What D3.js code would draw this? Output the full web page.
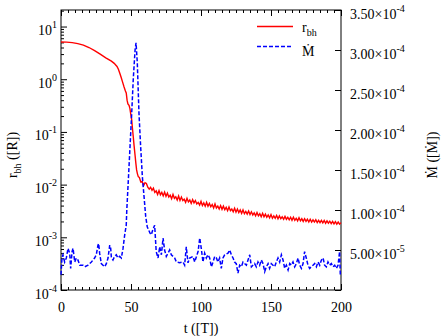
<!DOCTYPE html>
<head>
    <meta charset="UTF-8">
    <title>r_bh and Mdot</title>
    <style>
        body { margin: 0; background: #fff; }
        text { font-family: "Liberation Serif", "DejaVu Serif", serif; }
    </style>
</head>
<body>
    <script src="https://d3js.org/d3.v7.min.js"></script>
    <script>
        // -- data --
        // r_bh, smooth part (t, value)
        var rbhT = [0, 4, 8, 12, 16, 20, 24, 28, 32, 36, 38, 40, 41, 42, 43, 44, 45, 46, 46.6, 47.2, 47.8, 48.6, 49.2, 49.8, 50.5, 51, 51.6, 52.2, 52.9, 53.5, 54, 54.6, 55.2]
        var rbh = [5.1, 5.05, 4.95, 4.75, 4.45, 4.0, 3.5, 3.0, 2.55, 2.2, 2.0, 1.75, 1.55, 1.3, 1.08, 0.88, 0.72, 0.6, 0.55, 0.40, 0.34, 0.32, 0.28, 0.22, 0.17, 0.12, 0.082, 0.055, 0.036, 0.025, 0.019, 0.016, 0.0142]
        // r_bh, noisy tail, one value per t = 56..200, in units of 1e-3
        var rbhTailE3 = [13.6, 11.2, 11.5, 9.6, 10.9, 10.5, 8.9, 8.2, 8.9, 7.8,
            8.6, 7.1, 7.6, 6.5, 7.7, 6.4, 7.1, 6.1, 7.2, 6.0,
            6.9, 5.8, 6.3, 5.4, 6.5, 5.5, 5.9, 5.1, 6.1, 5.0,
            5.8, 5.0, 5.3, 4.6, 5.5, 4.7, 5.1, 4.4, 5.2, 4.5,
            5.0, 4.3, 4.6, 4.1, 4.8, 4.0, 4.5, 3.9, 4.6, 3.9,
            4.4, 3.8, 4.2, 3.6, 4.3, 3.6, 3.9, 3.45, 4.0, 3.4,
            3.9, 3.35, 3.7, 3.2, 3.75, 3.2, 3.45, 3.05, 3.55, 3.0,
            3.45, 2.95, 3.3, 2.85, 3.3, 2.8, 3.1, 2.75, 3.15, 2.7,
            3.05, 2.65, 2.9, 2.55, 2.95, 2.55, 2.8, 2.45, 2.85, 2.45,
            2.75, 2.4, 2.65, 2.35, 2.7, 2.3, 2.55, 2.3, 2.6, 2.25,
            2.55, 2.25, 2.45, 2.2, 2.5, 2.2, 2.4, 2.15, 2.4, 2.1,
            2.4, 2.1, 2.3, 2.05, 2.35, 2.05, 2.25, 2.0, 2.25, 2.0,
            2.2, 1.95, 2.2, 1.95, 2.15, 1.95, 2.15, 1.9, 2.1, 1.9,
            2.1, 1.88, 2.08, 1.85, 2.05, 1.85, 2.02, 1.82, 2.0, 1.8,
            1.98, 1.78, 1.95, 1.78, 1.9]
        var rbhTailT = d3.range(56, 201)

        // Mdot (t, value in units of 1e-5)
        var mdotT = [0, 0.7, 1.4, 2.6, 3.8, 5.0, 6.2, 6.9, 7.9, 8.6, 9.8, 10.9, 12.1, 13.4, 15.7, 16.9, 19.3, 21.7, 22.9, 24.0,
            25.2, 26.4, 26.9, 27.6, 28.8, 30.0, 31.2, 32.4, 33.6, 34.8, 35.5, 36.0, 37.1, 38.3, 39.5, 40.7, 41.9, 43.1, 44.3, 45.5,
            46.6, 47.0, 48.1, 49.3, 50.5, 51.6, 52.9, 53.6, 54.5, 55.7, 56.9, 58.1, 59.3, 60.5, 61.6, 63.6, 64.5, 65.7, 66.9, 68.0,
            69.3, 70.5, 71.7, 72.9, 74.0, 75.2, 76.4, 77.6, 78.8, 81.2, 82.4, 84.8, 87.1, 88.3, 89.5, 90.7, 91.9, 94.3, 95.5, 97.9,
            99.1, 100.2, 101.4, 102.6, 103.8, 105.0, 106.2, 107.4, 108.6, 109.8, 111.0, 112.1, 113.3, 114.5, 115.7, 116.9, 119.3, 120.5, 121.7, 122.9,
            124.0, 125.2, 126.4, 127.6, 128.8, 130.0, 132.4, 133.6, 134.8, 136.0, 138.3, 139.5, 140.7, 141.9, 143.1, 144.3, 145.5, 146.7, 147.9, 149.0,
            150.2, 151.4, 152.6, 153.8, 155.0, 156.2, 157.4, 158.6, 159.8, 161.0, 162.2, 163.4, 164.5, 165.7, 166.9, 168.1, 169.3, 170.5, 171.7, 172.9,
            174.0, 175.2, 176.4, 177.6, 178.8, 180.0, 181.2, 182.4, 183.6, 184.8, 186.0, 187.2, 188.3, 189.5, 190.7, 191.9, 193.1, 194.3, 195.5, 196.7,
            197.9, 198.6, 199.0, 199.5]
        var mdotE5 = [1.9, 4.0, 4.4, 3.5, 4.0, 5.2, 4.6, 2.7, 4.8, 5.2, 3.5, 4.0, 3.75, 3.1, 3.1, 2.9, 3.1, 3.5, 3.75, 4.0,
            4.4, 5.6, 5.8, 4.6, 3.3, 3.1, 2.9, 3.3, 4.0, 5.6, 5.2, 4.0, 3.75, 4.2, 4.4, 4.0, 4.2, 4.0, 5.2, 6.9,
            8.1, 10.0, 13.75, 17.9, 22.1, 26.3, 30.0, 30.9, 28.4, 22.1, 17.9, 14.2, 11.7, 9.2, 7.9, 7.1, 6.9, 7.6, 8.1, 4.8,
            4.0, 5.4, 4.4, 6.5, 5.0, 4.2, 4.6, 5.0, 4.4, 4.0, 3.5, 3.4, 3.5, 3.1, 5.4, 3.4, 4.0, 4.2, 3.5, 4.8,
            6.5, 5.2, 3.5, 4.6, 4.0, 4.4, 4.0, 2.9, 3.5, 4.2, 4.0, 3.5, 4.0, 2.7, 4.0, 4.4, 4.6, 5.0, 4.4, 4.0,
            3.5, 3.3, 2.1, 3.1, 2.9, 3.5, 3.1, 3.75, 4.4, 2.9, 3.3, 2.9, 3.5, 3.1, 3.75, 3.3, 2.3, 2.9, 3.3, 2.7,
            3.3, 3.1, 2.9, 3.5, 4.0, 3.5, 4.4, 3.75, 2.7, 3.1, 2.5, 3.3, 3.1, 3.5, 2.9, 3.3, 4.0, 3.1, 2.7, 3.3,
            4.8, 4.0, 3.1, 2.7, 2.9, 3.1, 3.3, 2.9, 3.5, 3.1, 3.75, 4.0, 3.1, 2.9, 3.5, 3.1, 3.3, 2.9, 3.1, 2.7,
            3.1, 4.2, 4.8, 1.9]

        // tick values
        var xMajor = [0, 50, 100, 150, 200]
        var xMinor = d3.range(0, 201, 5)
        var yLeftMajor = [1e-4, 1e-3, 1e-2, 1e-1, 1, 10]
        var yRightMajor = [0, 5e-5, 1e-4, 1.5e-4, 2e-4, 2.5e-4, 3e-4, 3.5e-4]

        var width = 443
        var height = 336
        var plot = { left: 61, right: 341, top: 10, bottom: 290 }

        var svg = d3.select("body").append("svg")
            .attr("width", width)
            .attr("height", height)

        var x = d3.scaleLinear().domain([0, 200]).range([plot.left, plot.right])
        var yL = d3.scaleLog().domain([1e-4, 20.6]).range([plot.bottom, plot.top])
        var yR = d3.scaleLinear().domain([0, 3.5e-4]).range([plot.bottom, plot.top])

        var yLeftMinor = yL.ticks().filter(function (d) { return yLeftMajor.indexOf(d) < 0 && d <= 20.6 })

        function clean(g) {
            g.select(".domain").remove()
            g.selectAll(".tick line").attr("stroke", "#000")
        }

        // -- axes (ticks point inward) --
        svg.append("g").attr("transform", "translate(0," + plot.bottom + ")")
            .call(d3.axisBottom(x).tickValues(xMinor).tickSize(-3).tickFormat(""))
            .call(clean)
        svg.append("g").attr("transform", "translate(0," + plot.bottom + ")")
            .call(d3.axisBottom(x).tickValues(xMajor).tickSize(-6).tickPadding(12).tickFormat(d3.format("d")))
            .call(clean)
            .selectAll("text").attr("font-size", 14).attr("fill", "#000")
        svg.append("g").attr("transform", "translate(0," + plot.top + ")")
            .call(d3.axisTop(x).tickValues(xMinor).tickSize(-3).tickFormat(""))
            .call(clean)
        svg.append("g").attr("transform", "translate(0," + plot.top + ")")
            .call(d3.axisTop(x).tickValues(xMajor).tickSize(-6).tickFormat(""))
            .call(clean)

        svg.append("g").attr("transform", "translate(" + plot.left + ",0)")
            .call(d3.axisLeft(yL).tickValues(yLeftMinor).tickSize(-3).tickFormat(""))
            .call(clean)
        var leftAx = svg.append("g").attr("transform", "translate(" + plot.left + ",0)")
            .call(d3.axisLeft(yL).tickValues(yLeftMajor).tickSize(-6).tickFormat(""))
            .call(clean)
        leftAx.selectAll(".tick text").remove()
        var lt = leftAx.selectAll(".tick").append("text")
            .attr("x", -4).attr("y", 8)
            .attr("text-anchor", "end").attr("font-size", 14).attr("fill", "#000")
        lt.append("tspan").text("10")
        lt.append("tspan").attr("dy", -7).attr("font-size", 10)
            .text(function (d) { return Math.round(Math.log10(d)) })

        var rightAx = svg.append("g").attr("transform", "translate(" + plot.right + ",0)")
            .call(d3.axisRight(yR).tickValues(yRightMajor).tickSize(-6).tickFormat(""))
            .call(clean)
        rightAx.selectAll(".tick text").remove()
        var rt = rightAx.selectAll(".tick").filter(function (d) { return d > 0 }).append("text")
            .attr("x", 9).attr("y", 8)
            .attr("font-size", 14).attr("fill", "#000")
        rt.append("tspan").text(function (d) {
            return d.toExponential(2).split("e")[0] + "\u00d710"
        })
        rt.append("tspan").attr("dy", -7).attr("font-size", 10)
            .text(function (d) { return d.toExponential(2).split("e")[1] })

        // frame
        svg.append("rect")
            .attr("x", plot.left).attr("y", plot.top)
            .attr("width", plot.right - plot.left).attr("height", plot.bottom - plot.top)
            .attr("fill", "none").attr("stroke", "#000").attr("stroke-width", 1)

        // -- lines --
        var rbhData = rbhT.map(function (t, i) { return [t, rbh[i]] })
            .concat(rbhTailT.map(function (t, i) { return [t, rbhTailE3[i] * 1e-3] }))
        var mdotData = mdotT.map(function (t, i) { return [t, mdotE5[i] * 1e-5] })

        svg.append("path").datum(rbhData)
            .attr("fill", "none").attr("stroke", "#ff0000").attr("stroke-width", 1.4)
            .attr("d", d3.line().x(function (d) { return x(d[0]) }).y(function (d) { return yL(d[1]) }))

        svg.append("path").datum(mdotData)
            .attr("fill", "none").attr("stroke", "#0000ff").attr("stroke-width", 1.5)
            .attr("stroke-dasharray", "4,2")
            .attr("d", d3.line().x(function (d) { return x(d[0]) }).y(function (d) { return yR(d[1]) }))

        // -- legend --
        svg.append("line").attr("x1", 257).attr("x2", 293).attr("y1", 26.5).attr("y2", 26.5)
            .attr("stroke", "#ff0000").attr("stroke-width", 1.3)
        svg.append("line").attr("x1", 257).attr("x2", 293).attr("y1", 46.5).attr("y2", 46.5)
            .attr("stroke", "#0000ff").attr("stroke-width", 1.5).attr("stroke-dasharray", "4,2")
        var l1 = svg.append("text").attr("x", 302).attr("y", 32).attr("font-size", 14)
        l1.append("tspan").text("r")
        l1.append("tspan").attr("dy", 4).attr("font-size", 10).text("bh")
        svg.append("text").attr("x", 302).attr("y", 56).attr("font-size", 14).text("\u1e40")

        // -- axis titles --
        svg.append("text").attr("x", 201).attr("y", 333).attr("text-anchor", "middle")
            .attr("font-size", 14).text("t ([T])")
        var yt = svg.append("text").attr("transform", "translate(17,155) rotate(-90)")
            .attr("text-anchor", "middle").attr("font-size", 14)
        yt.append("tspan").text("r")
        yt.append("tspan").attr("dy", 4).attr("font-size", 10).text("bh")
        yt.append("tspan").attr("dy", -4).text(" ([R])")
        svg.append("text").attr("transform", "translate(437,155) rotate(-90)")
            .attr("text-anchor", "middle").attr("font-size", 14).text("\u1e40 ([\u1e40])")
    </script>
</body>
</html>
